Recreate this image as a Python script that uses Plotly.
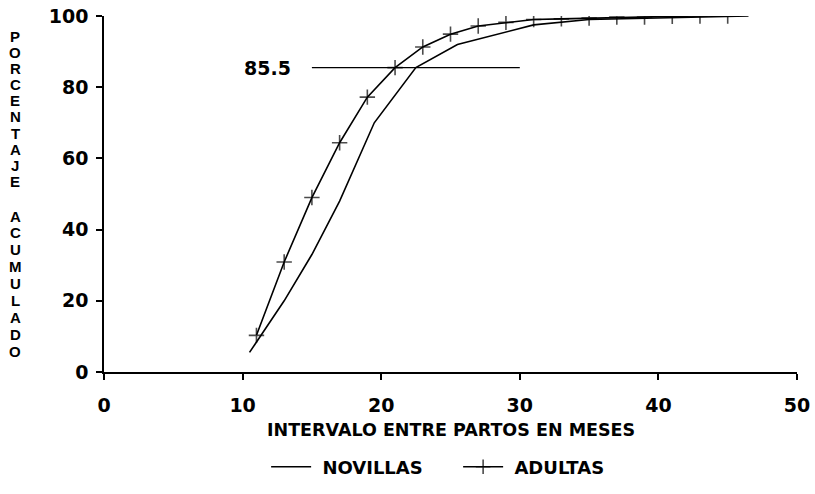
import plotly.graph_objects as go

# Data
novillas_x = [10.5, 13, 15, 17, 19.5, 22.5, 25.5, 28, 31, 35, 40, 46.5]
novillas_y = [5.5, 20, 33, 48, 70, 85.5, 92, 94.5, 97.5, 99, 99.5, 100]

adultas_x = [11, 13, 15, 17, 19, 21, 23, 25, 27, 29, 31, 33, 35, 37, 39, 41, 43, 45, 46.5]
adultas_y = [10.3, 30.9, 49.0, 64.4, 77.2, 85.5, 91.3, 94.9, 97.2, 98.2, 99.0, 99.2, 99.4, 99.7, 99.7, 99.9, 100, 100, 100.2]
adultas_marker_sizes = [11] * 18 + [0]

ref_x = [15, 30]
ref_y = [85.5, 85.5]
ref_label = "85.5"

x_ticks = [0, 10, 20, 30, 40, 50]
y_ticks = [0, 20, 40, 60, 80, 100]

x_title = "INTERVALO ENTRE PARTOS EN MESES"
y_title_words = ["PORCENTAJE", "ACUMULADO"]

FONT = "DejaVu Sans, Liberation Sans, Arial, sans-serif"
FONT2 = "Liberation Sans, Arial, sans-serif"

fig = go.Figure()
fig.add_trace(go.Scatter(
    x=novillas_x, y=novillas_y, mode="lines", name="<b>\u00a0NOVILLAS</b>",
    line=dict(color="black", width=1.6),
))
fig.add_trace(go.Scatter(
    x=adultas_x, y=adultas_y, mode="lines+markers", name="<b>\u00a0ADULTAS</b>",
    line=dict(color="black", width=1.6),
    marker=dict(symbol="cross-thin", size=adultas_marker_sizes, color="black",
                line=dict(color="black", width=1.6)),
))
fig.add_trace(go.Scatter(
    x=ref_x, y=ref_y, mode="lines", showlegend=False,
    line=dict(color="black", width=1.4), hoverinfo="skip",
))

fig.add_annotation(x=13.6, y=85.5, xref="x", yref="y", text="<b>" + ref_label + "</b>",
                   showarrow=False, xanchor="right", yanchor="middle",
                   font=dict(family=FONT, size=19, color="black"))

PLOT_TOP, PLOT_H, PLOT_L, PLOT_W = 16, 356, 104, 693

# x-axis title
fig.add_annotation(x=0.5, y=(PLOT_TOP + PLOT_H - 430) / PLOT_H, xref="paper", yref="paper",
                   text="<b>" + x_title + "</b>", showarrow=False,
                   xanchor="center", yanchor="middle",
                   font=dict(family=FONT, size=17.5, color="black"))

# Vertical stacked y-axis title, one letter per annotation
word_layout = [(36, 16.2), (216, 16.9)]  # (first letter centre px, pitch px)
for word, (start, pitch) in zip(y_title_words, word_layout):
    for i, ch in enumerate(word):
        py = start + i * pitch
        fig.add_annotation(x=(15 - PLOT_L) / PLOT_W, y=(PLOT_TOP + PLOT_H - py) / PLOT_H,
                           xref="paper", yref="paper", text="<b>" + ch + "</b>",
                           showarrow=False, xanchor="center", yanchor="middle",
                           font=dict(family=FONT2, size=15, color="black"))

fig.update_layout(
    width=815, height=494,
    margin=dict(l=104, r=18, t=16, b=122, autoexpand=False),
    paper_bgcolor="white", plot_bgcolor="white",
    font=dict(family=FONT, color="black"),
    showlegend=True,
    legend=dict(orientation="h", x=0.511, xanchor="center", y=-0.267, yanchor="middle",
                font=dict(family=FONT, size=18, color="black"),
                itemwidth=40, entrywidth=137, traceorder="normal"),
    xaxis=dict(range=[0, 50], tickvals=x_ticks, ticktext=["<b>%d</b>" % v for v in x_ticks],
               automargin=False,
               showgrid=False, zeroline=False, showline=True, linecolor="black", linewidth=1.6,
               ticks="outside", ticklen=6, tickwidth=1.5, tickcolor="black",
               ticklabelstandoff=9,
               tickfont=dict(family=FONT, size=19, color="black")),
    yaxis=dict(range=[0, 100], tickvals=y_ticks, ticktext=["<b>%d</b>" % v for v in y_ticks],
               automargin=False,
               showgrid=False, zeroline=False, showline=True, linecolor="black", linewidth=1.6,
               ticks="outside", ticklen=6, tickwidth=1.5, tickcolor="black",
               ticklabelstandoff=4,
               tickfont=dict(family=FONT, size=19, color="black")),
)

fig.write_html("out.html", config={"displayModeBar": False},
               post_script="document.body.style.margin='0';document.body.style.overflow='hidden';")
